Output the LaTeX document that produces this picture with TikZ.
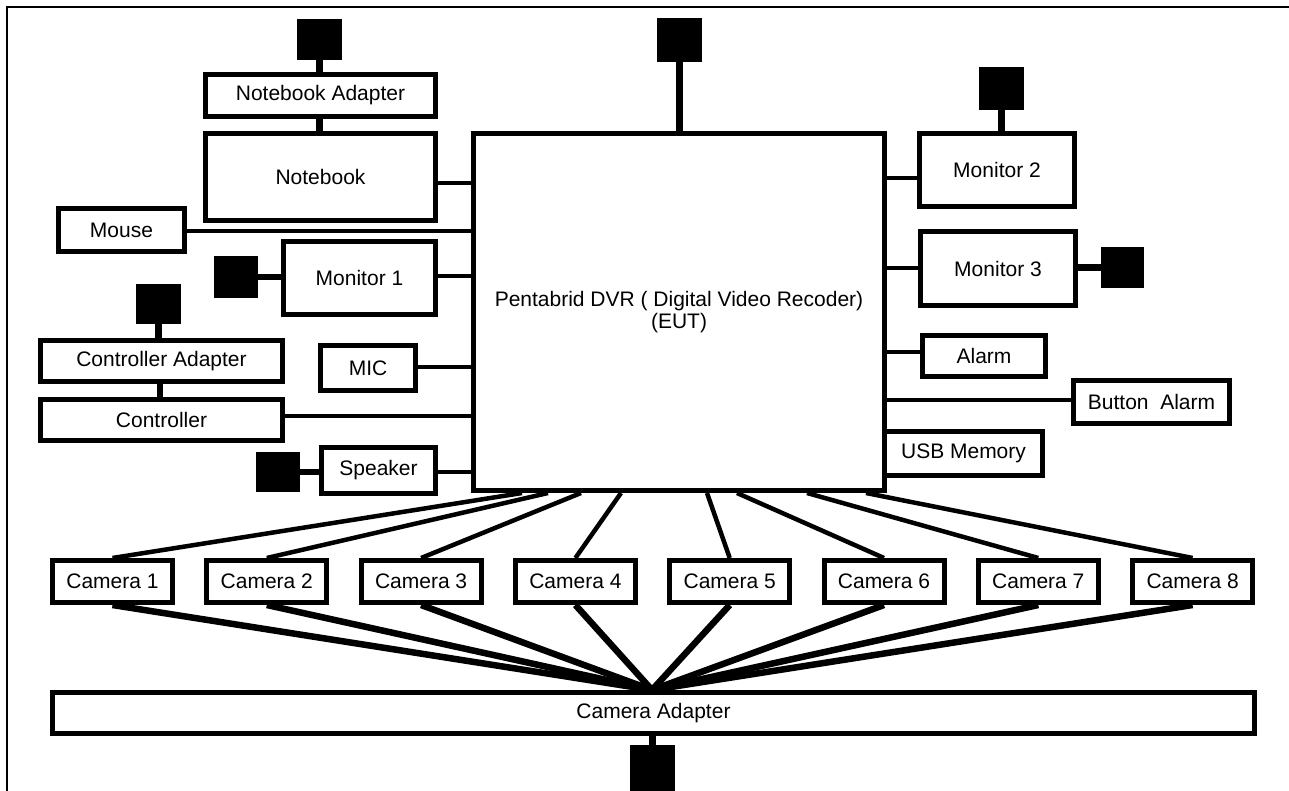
\documentclass[tikz,border=0pt]{standalone}
\usepackage{fontspec}
\setmainfont{Liberation Sans}
\begin{document}
\begin{tikzpicture}[x=1pt,y=-1pt,
  box/.style={draw,line width=5pt,fill=white,inner sep=0pt,align=center,
              font=\fontsize{21}{22}\selectfont},
  blk/.style={fill=black,inner sep=0pt},
  wire/.style={line width=4.5pt},
  plug/.style={line width=6.5pt},
  fanup/.style={line width=4.5pt},
  fandn/.style={line width=6.5pt},
  frame/.style={line width=2pt}]
\useasboundingbox (0,0) rectangle (1289,791);
\fill[white] (0,0) rectangle (1289,791);
\draw[frame] (7,791) -- (7,7) -- (1289,7);

% central unit
\node[box,minimum width=411,minimum height=357] (dvr) at (679,312)
  {Pentabrid DVR ( Digital Video Recoder)\\(EUT)};

% left side
\node[box,minimum width=230,minimum height=42] (nbad) at (320.5,95.5) {Notebook Adapter};
\node[box,minimum width=230,minimum height=87] (nb) at (320.5,177) {Notebook};
\node[box,minimum width=126,minimum height=43] (mouse) at (121.5,230) {Mouse};
\node[box,minimum width=152,minimum height=73] (mon1) at (359.5,278) {Monitor 1};
\node[box,minimum width=242,minimum height=41] (ctad) at (161.5,361) {Controller Adapter};
\node[box,minimum width=242,minimum height=41] (ctrl) at (161.5,420) {Controller};
\node[box,minimum width=95,minimum height=45] (mic) at (368,368) {MIC};
\node[box,minimum width=114,minimum height=46] (spk) at (378.5,470.5) {Speaker};

% right side
\node[box,minimum width=155,minimum height=73] (mon2) at (997,170) {Monitor 2};
\node[box,minimum width=155,minimum height=74] (mon3) at (998,268.5) {Monitor 3};
\node[box,minimum width=123,minimum height=41] (alarm) at (984,356) {Alarm};
\node[box,minimum width=156,minimum height=43] (balarm) at (1151.5,402) {Button\ \ Alarm};
\node[box,minimum width=158,minimum height=44] (usb) at (963.5,453.5) {USB Memory};

% cameras and adapter
\foreach \i in {1,...,8}
  \node[box,minimum width=120,minimum height=42] (cam\i) at ({112.5+154.3*(\i-1)},581.5) {Camera \i};
\node[box,minimum width=1202,minimum height=41] (camad) at (653.5,713) {Camera Adapter};

% power plugs (black squares)
\node[blk,minimum width=45,minimum height=41] (sqnb) at (319.5,39.5) {};
\node[blk,minimum width=45,minimum height=44] (sqtop) at (679.5,40) {};
\node[blk,minimum width=44,minimum height=42] (sqmon1) at (236,277) {};
\node[blk,minimum width=45,minimum height=40] (sqct) at (158.5,304) {};
\node[blk,minimum width=44,minimum height=40] (sqspk) at (278,472) {};
\node[blk,minimum width=45,minimum height=43] (sqmon2) at (1001.5,88.5) {};
\node[blk,minimum width=43,minimum height=41] (sqmon3) at (1122.5,267.5) {};
\node[blk,minimum width=45,minimum height=46] (sqcam) at (652.5,768) {};

% plug connectors
\draw[plug] (sqnb.south) -- (nbad.north -| sqnb.south);
\draw[plug] (nbad.south -| sqnb.south) -- (nb.north -| sqnb.south);
\draw[plug] (sqtop.south) -- (dvr.north -| sqtop.south);
\draw[plug] (sqmon1.east) -- (mon1.west |- sqmon1.east);
\draw[plug] (sqct.south) -- (ctad.north -| sqct.south);
\draw[plug] (ctad.south -| 160,0) -- (ctrl.north -| 160,0);
\draw[plug] (sqspk.east) -- (spk.west |- sqspk.east);
\draw[plug] (sqmon2.south) -- (mon2.north -| sqmon2.south);
\draw[plug] (mon3.east |- sqmon3.west) -- (sqmon3.west);
\draw[plug] (camad.south -| sqcam.north) -- (sqcam.north);

% wires to the DVR
\draw[wire] (nb.east |- 0,183) -- (dvr.west |- 0,183);
\draw[wire] (mouse.east |- 0,231) -- (dvr.west |- 0,231);
\draw[wire] (mon1.east |- 0,276) -- (dvr.west |- 0,276);
\draw[wire] (mic.east |- 0,367) -- (dvr.west |- 0,367);
\draw[wire] (ctrl.east |- 0,416) -- (dvr.west |- 0,416);
\draw[wire] (spk.east |- 0,472) -- (dvr.west |- 0,472);
\draw[wire] (dvr.east |- 0,178) -- (mon2.west |- 0,178);
\draw[wire] (dvr.east |- 0,268) -- (mon3.west |- 0,268);
\draw[wire] (dvr.east |- 0,352) -- (alarm.west |- 0,352);
\draw[wire] (dvr.east |- 0,400) -- (balarm.west |- 0,400);

% camera fans
\foreach \i/\sx in {1/522,2/548,3/581,4/621,5/707,6/737,7/807,8/866}
  \draw[fanup] (dvr.south -| \sx,0) -- (cam\i.north);
\foreach \i in {1,...,8}
  \draw[fandn] (cam\i.south) -- (camad.north -| 652,0);
\end{tikzpicture}
\end{document}
